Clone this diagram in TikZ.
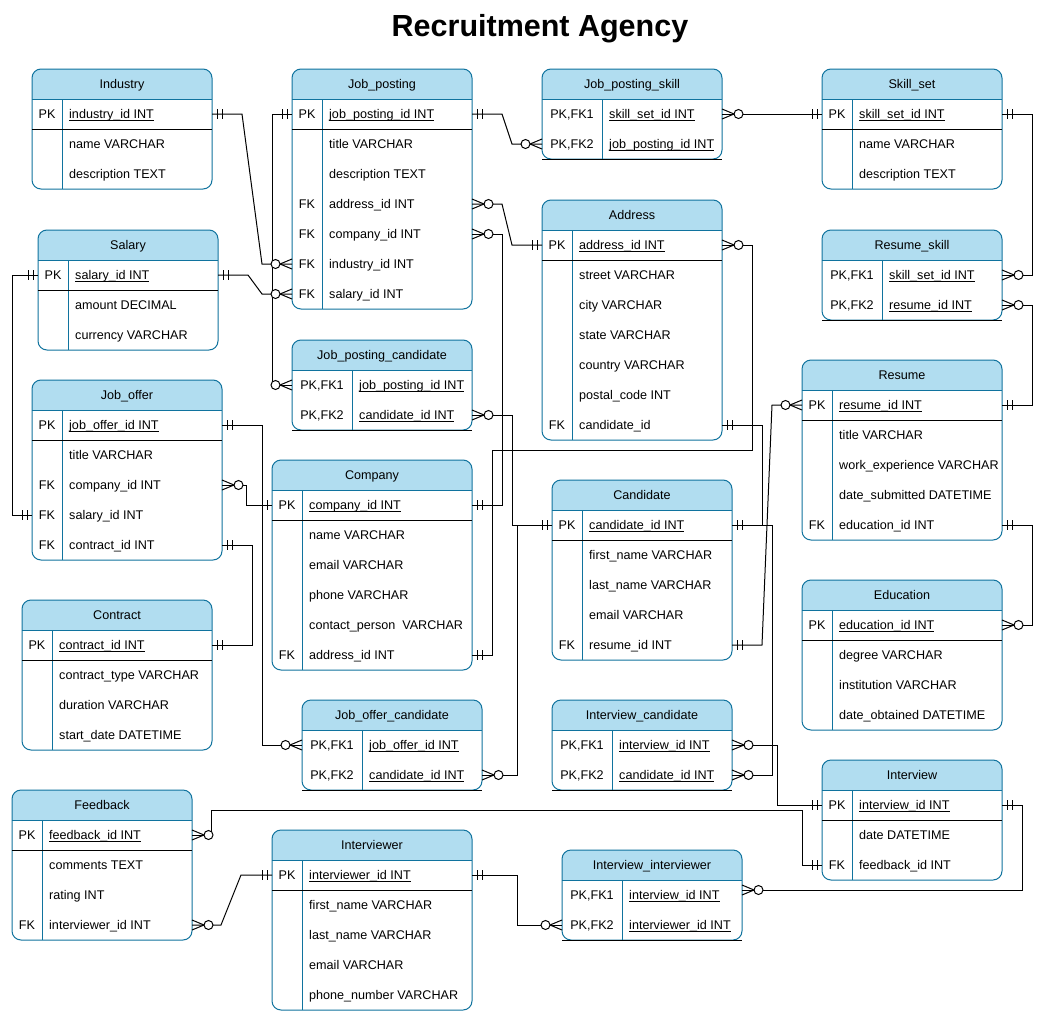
\documentclass[tikz,border=0pt]{standalone}
\usepackage{fontspec}
\setmainfont{Liberation Sans}
\usetikzlibrary{calc}
\definecolor{hdr}{HTML}{B1DDF0}
\definecolor{bord}{HTML}{10739E}
\newcommand{\ul}[1]{\setbox0\hbox{#1}\rlap{\rule[-2pt]{\wd0}{0.8pt}}\box0}
% id, x, y, w, key width, rows, title, link table (1/0)
\newcommand{\ertable}[8]{%
  \expandafter\xdef\csname erkw#1\endcsname{#5}%
  \pgfmathsetmacro{\erB}{#3+30+30*#6}%
  \begin{scope}
    \clip[rounded corners=9] (#2,#3) rectangle (#2+#4,\erB);
    \fill[hdr] (#2,#3) rectangle (#2+#4,#3+30);
  \end{scope}
  \draw[tabline, rounded corners=9] (#2,#3) rectangle (#2+#4,\erB);
  \draw[tabline] (#2,#3+30) -- (#2+#4,#3+30);
  \draw[tabline] (#2+#5,#3+30) -- (#2+#5,\erB);
  \ifnum#8=1 \draw[keyline] (#2,\erB) -- (#2+#4,\erB);\else\draw[keyline] (#2,#3+60) -- (#2+#4,#3+60);\fi
  \node[anchor=base] (#1) at (#2+#4/2,#3+19.5) {#7};
  \foreach \i in {1,...,#6}{%
    \coordinate (#1-\i-l) at (#2,#3+15+30*\i);
    \coordinate (#1-\i-r) at (#2+#4,#3+15+30*\i);
  }%
}
% id, row, key, text
\newcommand{\erow}[4]{%
  \node[anchor=base] (#1-#2-k) at ($(#1-#2-l)+(\csname erkw#1\endcsname/2,4.5)$) {#3};
  \node[anchor=base west] (#1-#2-t) at ($(#1-#2-l)+(\csname erkw#1\endcsname+7,4.5)$) {#4};
}
% mandatory one: coordinate, direction
\newcommand{\mone}[2]{%
  \draw[edge] ($(#1)+(#2*5,-5)$) -- ($(#1)+(#2*5,5)$);
  \draw[edge] ($(#1)+(#2*10,-5)$) -- ($(#1)+(#2*10,5)$);
}
% zero to many: coordinate, direction
\newcommand{\zmany}[2]{%
  \draw[edge] ($(#1)+(0,-5)$) -- ($(#1)+(#2*12,0)$) -- ($(#1)+(0,5)$);
  \draw[edge, fill=white] ($(#1)+(#2*16.5,0)$) circle (4.5);
}
\begin{document}
\begin{tikzpicture}[x=1pt,y=-1pt,
  every node/.style={font=\fontsize{12.6}{14}\selectfont, inner sep=0pt, text=black},
  tabline/.style={draw=bord, line width=1pt},
  keyline/.style={draw=black, line width=1pt},
  edge/.style={draw=black, line width=1pt}]
\useasboundingbox[fill=white] (0,0) rectangle (1045,1012);
\node[anchor=base, font=\fontsize{30.5}{34}\selectfont\bfseries] (title) at (540,36.5) {Recruitment Agency};

% ---------------- tables ----------------
\ertable{ind}{32}{69}{180}{30}{3}{Industry}{0}
\erow{ind}{1}{PK}{\ul{industry\_id INT}}
\erow{ind}{2}{}{name VARCHAR}
\erow{ind}{3}{}{description TEXT}

\ertable{sal}{38}{230}{180}{30}{3}{Salary}{0}
\erow{sal}{1}{PK}{\ul{salary\_id INT}}
\erow{sal}{2}{}{amount DECIMAL}
\erow{sal}{3}{}{currency VARCHAR}

\ertable{jp}{292}{69}{180}{30}{7}{Job\_posting}{0}
\erow{jp}{1}{PK}{\ul{job\_posting\_id INT}}
\erow{jp}{2}{}{title VARCHAR}
\erow{jp}{3}{}{description TEXT}
\erow{jp}{4}{FK}{address\_id INT}
\erow{jp}{5}{FK}{company\_id INT}
\erow{jp}{6}{FK}{industry\_id INT}
\erow{jp}{7}{FK}{salary\_id INT}

\ertable{jps}{542}{69}{180}{60}{2}{Job\_posting\_skill}{1}
\erow{jps}{1}{PK,FK1}{\ul{skill\_set\_id INT}}
\erow{jps}{2}{PK,FK2}{\ul{job\_posting\_id INT}}

\ertable{sks}{822}{69}{180}{30}{3}{Skill\_set}{0}
\erow{sks}{1}{PK}{\ul{skill\_set\_id INT}}
\erow{sks}{2}{}{name VARCHAR}
\erow{sks}{3}{}{description TEXT}

\ertable{adr}{542}{200}{180}{30}{7}{Address}{0}
\erow{adr}{1}{PK}{\ul{address\_id INT}}
\erow{adr}{2}{}{street VARCHAR}
\erow{adr}{3}{}{city VARCHAR}
\erow{adr}{4}{}{state VARCHAR}
\erow{adr}{5}{}{country VARCHAR}
\erow{adr}{6}{}{postal\_code INT}
\erow{adr}{7}{FK}{candidate\_id}

\ertable{rsk}{822}{230}{180}{60}{2}{Resume\_skill}{1}
\erow{rsk}{1}{PK,FK1}{\ul{skill\_set\_id INT}}
\erow{rsk}{2}{PK,FK2}{\ul{resume\_id INT}}

\ertable{jpc}{292}{340}{180}{60}{2}{Job\_posting\_candidate}{1}
\erow{jpc}{1}{PK,FK1}{\ul{job\_posting\_id INT}}
\erow{jpc}{2}{PK,FK2}{\ul{candidate\_id INT}}

\ertable{jo}{32}{380}{190}{30}{5}{Job\_offer}{0}
\erow{jo}{1}{PK}{\ul{job\_offer\_id INT}}
\erow{jo}{2}{}{title VARCHAR}
\erow{jo}{3}{FK}{company\_id INT}
\erow{jo}{4}{FK}{salary\_id INT}
\erow{jo}{5}{FK}{contract\_id INT}

\ertable{cmp}{272}{460}{200}{30}{6}{Company}{0}
\erow{cmp}{1}{PK}{\ul{company\_id INT}}
\erow{cmp}{2}{}{name VARCHAR}
\erow{cmp}{3}{}{email VARCHAR}
\erow{cmp}{4}{}{phone VARCHAR}
\erow{cmp}{5}{}{contact\_person\ \ VARCHAR}
\erow{cmp}{6}{FK}{address\_id INT}

\ertable{ctr}{22}{600}{190}{30}{4}{Contract}{0}
\erow{ctr}{1}{PK}{\ul{contract\_id INT}}
\erow{ctr}{2}{}{contract\_type VARCHAR}
\erow{ctr}{3}{}{duration VARCHAR}
\erow{ctr}{4}{}{start\_date DATETIME}

\ertable{joc}{302}{700}{180}{60}{2}{Job\_offer\_candidate}{1}
\erow{joc}{1}{PK,FK1}{\ul{job\_offer\_id INT}}
\erow{joc}{2}{PK,FK2}{\ul{candidate\_id INT}}

\ertable{cnd}{552}{480}{180}{30}{5}{Candidate}{0}
\erow{cnd}{1}{PK}{\ul{candidate\_id INT}}
\erow{cnd}{2}{}{first\_name VARCHAR}
\erow{cnd}{3}{}{last\_name VARCHAR}
\erow{cnd}{4}{}{email VARCHAR}
\erow{cnd}{5}{FK}{resume\_id INT}

\ertable{ivc}{552}{700}{180}{60}{2}{Interview\_candidate}{1}
\erow{ivc}{1}{PK,FK1}{\ul{interview\_id INT}}
\erow{ivc}{2}{PK,FK2}{\ul{candidate\_id INT}}

\ertable{res}{802}{360}{200}{30}{5}{Resume}{0}
\erow{res}{1}{PK}{\ul{resume\_id INT}}
\erow{res}{2}{}{title VARCHAR}
\erow{res}{3}{}{work\_experience VARCHAR}
\erow{res}{4}{}{date\_submitted DATETIME}
\erow{res}{5}{FK}{education\_id INT}

\ertable{edu}{802}{580}{200}{30}{4}{Education}{0}
\erow{edu}{1}{PK}{\ul{education\_id INT}}
\erow{edu}{2}{}{degree VARCHAR}
\erow{edu}{3}{}{institution VARCHAR}
\erow{edu}{4}{}{date\_obtained DATETIME}

\ertable{itv}{822}{760}{180}{30}{3}{Interview}{0}
\erow{itv}{1}{PK}{\ul{interview\_id INT}}
\erow{itv}{2}{}{date DATETIME}
\erow{itv}{3}{FK}{feedback\_id INT}

\ertable{ivi}{562}{850}{180}{60}{2}{Interview\_interviewer}{1}
\erow{ivi}{1}{PK,FK1}{\ul{interview\_id INT}}
\erow{ivi}{2}{PK,FK2}{\ul{interviewer\_id INT}}

\ertable{fbk}{12}{790}{180}{30}{4}{Feedback}{0}
\erow{fbk}{1}{PK}{\ul{feedback\_id INT}}
\erow{fbk}{2}{}{comments TEXT}
\erow{fbk}{3}{}{rating INT}
\erow{fbk}{4}{FK}{interviewer\_id INT}

\ertable{ivr}{272}{830}{200}{30}{5}{Interviewer}{0}
\erow{ivr}{1}{PK}{\ul{interviewer\_id INT}}
\erow{ivr}{2}{}{first\_name VARCHAR}
\erow{ivr}{3}{}{last\_name VARCHAR}
\erow{ivr}{4}{}{email VARCHAR}
\erow{ivr}{5}{}{phone\_number VARCHAR}

\coordinate (ivi-in) at ($(ivi-1-r)+(0,-5)$);

% ---------------- connectors ----------------
\draw[edge] (ind-1-r) -- ++(30,0) -- ($(jp-6-l)+(-30,0)$) -- (jp-6-l);
\draw[edge] (sal-1-r) -- ++(30,0) -- ($(jp-7-l)+(-30,0)$) -- (jp-7-l);
\draw[edge] (jp-1-l) -- ++(-20,0) |- (jpc-1-l);
\draw[edge] (sal-1-l) -- ++(-26,0) |- (jo-4-l);
\draw[edge] (jp-1-r) -- ++(30,0) -- ($(jps-2-l)+(-30,0)$) -- (jps-2-l);
\draw[edge] (sks-1-l) -- (jps-1-r);
\draw[edge] (sks-1-r) -- ++(30,0) |- (rsk-1-r);
\draw[edge] (res-1-r) -- ++(30,0) |- (rsk-2-r);
\draw[edge] (res-5-r) -- ++(30,0) |- (edu-1-r);
\draw[edge] (jp-4-r) -- ++(30,0) -- ($(adr-1-l)+(-30,0)$) -- (adr-1-l);
\draw[edge] (jp-5-r) -- ++(30,0) |- (cmp-1-r);
\draw[edge] (jpc-2-r) -- ++(40,0) |- (cnd-1-l);
\draw[edge] (cmp-6-r) -- ++(20,0) |- ($(adr-1-r)+(30,205)$) |- (adr-1-r);
\draw[edge] (cnd-1-l) -- ++(-35,0) |- (joc-2-r);
\draw[edge] (adr-7-r) -- ++(40,0) |- (cnd-1-r);
\draw[edge] (cnd-5-r) -- ++(30,0) -- ($(res-1-l)+(-30,0)$) -- (res-1-l);
\draw[edge] (cnd-1-r) -- ++(40,0) |- (ivc-2-r);
\draw[edge] (ivc-1-r) -- ++(45,0) |- (itv-1-l);
\draw[edge] (fbk-1-r) -- ++(19,0) |- ($(itv-3-l)+(-20,-55)$) |- (itv-3-l);
\draw[edge] (fbk-4-r) -- ++(29,0) -- ($(ivr-1-l)+(-31,0)$) -- (ivr-1-l);
\draw[edge] (ivr-1-r) -- ++(45,0) |- (ivi-2-l);
\draw[edge] (itv-1-r) -- ++(20,0) |- (ivi-in);
\draw[edge] (jo-1-r) -- ++(40,0) |- (joc-1-l);
\draw[edge] (jo-3-r) -- ++(24,0) |- (cmp-1-l);
\draw[edge] (jo-5-r) -- ++(30,0) |- (ctr-1-r);

% ---------------- end symbols ----------------
\mone{ind-1-r}{1}  \zmany{jp-6-l}{-1}
\mone{sal-1-r}{1}  \zmany{jp-7-l}{-1}
\mone{jp-1-l}{-1}  \zmany{jpc-1-l}{-1}
\mone{sal-1-l}{-1} \mone{jo-4-l}{-1}
\mone{jp-1-r}{1}   \zmany{jps-2-l}{-1}
\mone{sks-1-l}{-1} \zmany{jps-1-r}{1}
\mone{sks-1-r}{1}  \zmany{rsk-1-r}{1}
\mone{res-1-r}{1}  \zmany{rsk-2-r}{1}
\mone{res-5-r}{1}  \zmany{edu-1-r}{1}
\zmany{jp-4-r}{1}  \mone{adr-1-l}{-1}
\zmany{jp-5-r}{1}  \mone{cmp-1-r}{1}
\zmany{jpc-2-r}{1} \mone{cnd-1-l}{-1}
\mone{cmp-6-r}{1}  \zmany{adr-1-r}{1}
\zmany{joc-2-r}{1}
\mone{adr-7-r}{1}  \mone{cnd-1-r}{1}
\mone{cnd-5-r}{1}  \zmany{res-1-l}{-1}
\zmany{ivc-2-r}{1}
\zmany{ivc-1-r}{1} \mone{itv-1-l}{-1}
\zmany{fbk-1-r}{1} \mone{itv-3-l}{-1}
\zmany{fbk-4-r}{1} \mone{ivr-1-l}{-1}
\mone{ivr-1-r}{1}  \zmany{ivi-2-l}{-1}
\mone{itv-1-r}{1}  \zmany{ivi-in}{1}
\mone{jo-1-r}{1}   \zmany{joc-1-l}{-1}
\zmany{jo-3-r}{1}  \mone{cmp-1-l}{-1}
\mone{jo-5-r}{1}   \mone{ctr-1-r}{1}
\end{tikzpicture}
\end{document}
